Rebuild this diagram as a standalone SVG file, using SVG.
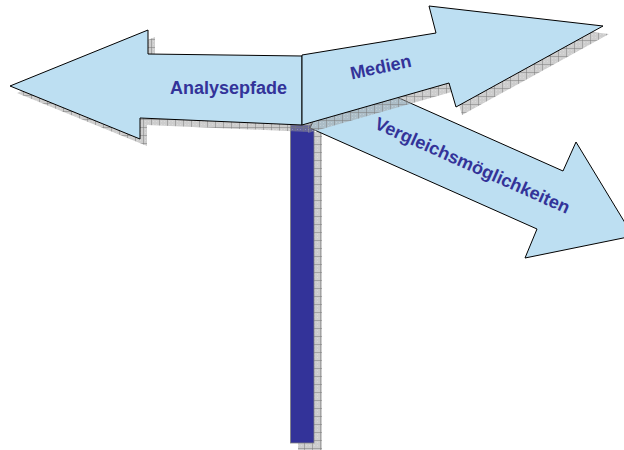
<svg xmlns="http://www.w3.org/2000/svg" width="624" height="450" viewBox="0 0 624 450">
<defs>
<pattern id="hatch" width="8" height="8" patternUnits="userSpaceOnUse">
<rect width="8" height="8" fill="#9c9c9c" fill-opacity="0.5"/>
<path d="M0 0.5H8M0.5 0V8" stroke="#7a7a7a" stroke-opacity="0.5" stroke-width="1"/>
<path d="M2 2h1v1h-1zM5 5h1v1h-1zM5 2h1v1h-1zM2 5h1v1h-1z" fill="#ffffff" fill-opacity="0.25"/>
</pattern>
<style>
.arrow{fill:#bddff2;stroke:#000;stroke-width:1;stroke-linejoin:miter}
.shadow{fill:url(#hatch);stroke:none}
.lbl{font-family:"Liberation Sans",Arial,sans-serif;font-weight:bold;font-size:18px;fill:#333399;text-anchor:middle}
</style>
</defs>
<g id="pole">
<rect class="shadow" x="298" y="132" width="24" height="318"/>
<rect x="290.5" y="125" width="23.5" height="318" fill="#333399" stroke="#808080" stroke-width="0.8"/>
</g>
<g id="connectors"></g>
<g id="vergleich">
<polygon class="arrow" points="310,128 537,229 525,258 633,236 576,142 563,171 336,70"/>
<text class="lbl" transform="translate(470,171) rotate(24)">Vergleichsmöglichkeiten</text>
</g>
<g id="analysepfade">
<polygon class="shadow" transform="translate(7,7)" points="10,86 148,30 148,54 302,56 302,125 140,118 140,139"/>
<polygon class="arrow" points="10,86 148,30 148,54 302,56 302,125 140,118 140,139"/>
<text class="lbl" x="228.5" y="94">Analysepfade</text>
</g>
<g id="medien">
<polygon class="shadow" transform="translate(6,8)" points="302,55 436,33 429,6 603,26 456,107 449,83 302,125"/>
<polygon class="arrow" points="302,55 436,33 429,6 603,26 456,107 449,83 302,125"/>
<text class="lbl" transform="translate(382,73) rotate(-12)">Medien</text>
</g>
</svg>
